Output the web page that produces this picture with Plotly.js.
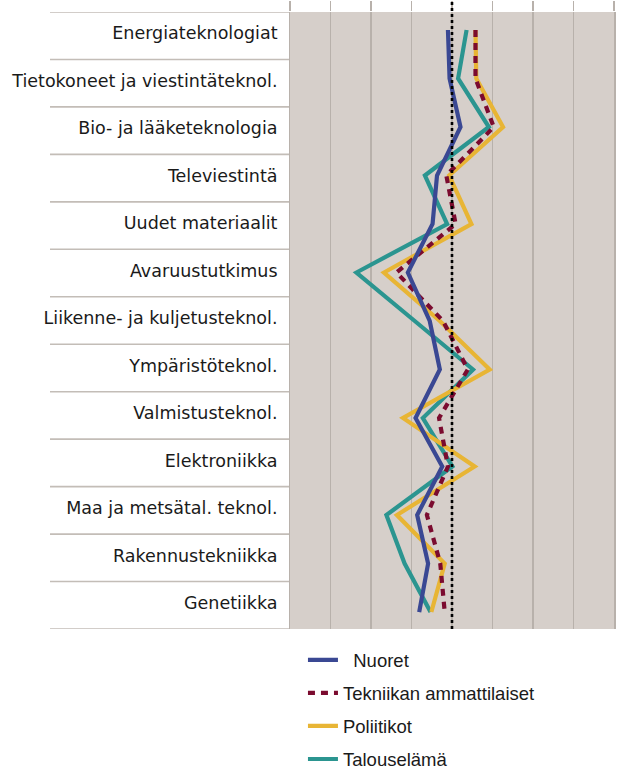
<!DOCTYPE html>
<html>
<head>
<meta charset="utf-8">
<script src="https://cdn.plot.ly/plotly-3.0.1.min.js"></script>
<style>html,body{margin:0;padding:0;background:#fff;}#chart{width:622px;height:773px;}</style>
</head>
<body>
<div id="chart"></div>
<script>
var categories = ["Energiateknologiat", "Tietokoneet ja viestintäteknol.", "Bio- ja lääketeknologia", "Televiestintä", "Uudet materiaalit", "Avaruustutkimus", "Liikenne- ja kuljetusteknol.", "Ympäristöteknol.", "Valmistusteknol.", "Elektroniikka", "Maa ja metsätal. teknol.", "Rakennustekniikka", "Genetiikka"];
var seriesNames = ["Nuoret", "Tekniikan ammattilaiset", "Poliitikot", "Talouselämä"];
var nuoret = [-0.10, -0.06, 0.21, -0.37, -0.48, -1.09, -0.55, -0.30, -0.90, -0.24, -0.86, -0.59, -0.81];
var tekniikan = [0.58, 0.58, 1.03, -0.14, 0.09, -1.37, -0.22, 0.39, -0.32, -0.10, -0.62, -0.29, -0.18];
var poliitikot = [0.58, 0.60, 1.26, -0.07, 0.48, -1.68, -0.30, 0.93, -1.21, 0.56, -1.36, -0.18, -0.51];
var talous = [0.36, 0.15, 0.91, -0.67, -0.12, -2.36, -0.92, 0.52, -0.72, 0.01, -1.62, -1.17, -0.53];
var xTicks = [-4, -3, -2, -1, 0, 1, 2, 3, 4];

var gridCol = "#b8b1ab";
function tr(x, name, color, dash, rank) {
  return {
    type: "scatter", mode: "lines", x: x, y: categories, name: name,
    legendgroup: name, legendrank: rank,
    line: {color: color, width: 4.2, dash: dash || "solid"},
    hoverinfo: "skip"
  };
}
var data = [
  tr(talous, seriesNames[3], "#2b9590", null, 4),
  tr(poliitikot, seriesNames[2], "#e8b535", null, 3),
  tr(tekniikan, seriesNames[1], "#7b0b2f", "7px,6px", 2),
  tr(nuoret, "\u00a0\u00a0" + seriesNames[0], "#3a4893", null, 1)
];

var shapes = [];
for (var k = 0; k <= categories.length; k++) {
  shapes.push({type: "line", xref: "paper", yref: "y2", x0: -0.7407, x1: 0, y0: k, y1: k,
    line: {color: "#c3bdb7", width: 1.6}, layer: "below"});
}
shapes.push({type: "line", xref: "x", yref: "paper", x0: 0, x1: 0, y0: 0, y1: 1.0195,
  line: {color: "#000", width: 2.6, dash: "dot"}});

var tv = [];
for (var i = 0; i < categories.length; i++) tv.push(i + 0.45);

var layout = {
  width: 622, height: 773,
  margin: {l: 290, r: 8, t: 12, b: 144, pad: 0, autoexpand: false},
  paper_bgcolor: "#ffffff", plot_bgcolor: "#d6cfca",
  font: {family: "DejaVu Sans, sans-serif", color: "#1a1a1a"},
  showlegend: true,
  xaxis: {range: [-4, 4], tickvals: xTicks, side: "top", showticklabels: false,
    ticks: "outside", ticklen: 10, tickcolor: gridCol, tickwidth: 1.5,
    showgrid: true, gridcolor: gridCol, gridwidth: 1.5, zeroline: false, fixedrange: true},
  yaxis: {type: "category", categoryarray: categories, range: [12.35, -0.371],
    showticklabels: false, showgrid: false, zeroline: false, ticks: "",
    showline: true, mirror: true, linecolor: gridCol, linewidth: 1.5},
  yaxis2: {overlaying: "y", side: "left", range: [13, 0], tickvals: tv, ticktext: categories,
    ticks: "outside", ticklen: 8, tickcolor: "rgba(0,0,0,0)", showgrid: false, zeroline: false,
    tickfont: {family: "DejaVu Sans", size: 17.5, color: "#1a1a1a"}},
  legend: {x: 0.04, xanchor: "left", y: -0.02, yanchor: "top", orientation: "v",
    tracegroupgap: 6, bgcolor: "rgba(0,0,0,0)",
    font: {family: "Liberation Sans, Arial, sans-serif", size: 18.5, color: "#1a1a1a"}},
  shapes: shapes
};
data.push({type: "scatter", x: [null], y: [null], yaxis: "y2", showlegend: false, hoverinfo: "skip"});
Plotly.newPlot("chart", data, layout, {staticPlot: true});
</script>
</body>
</html>
